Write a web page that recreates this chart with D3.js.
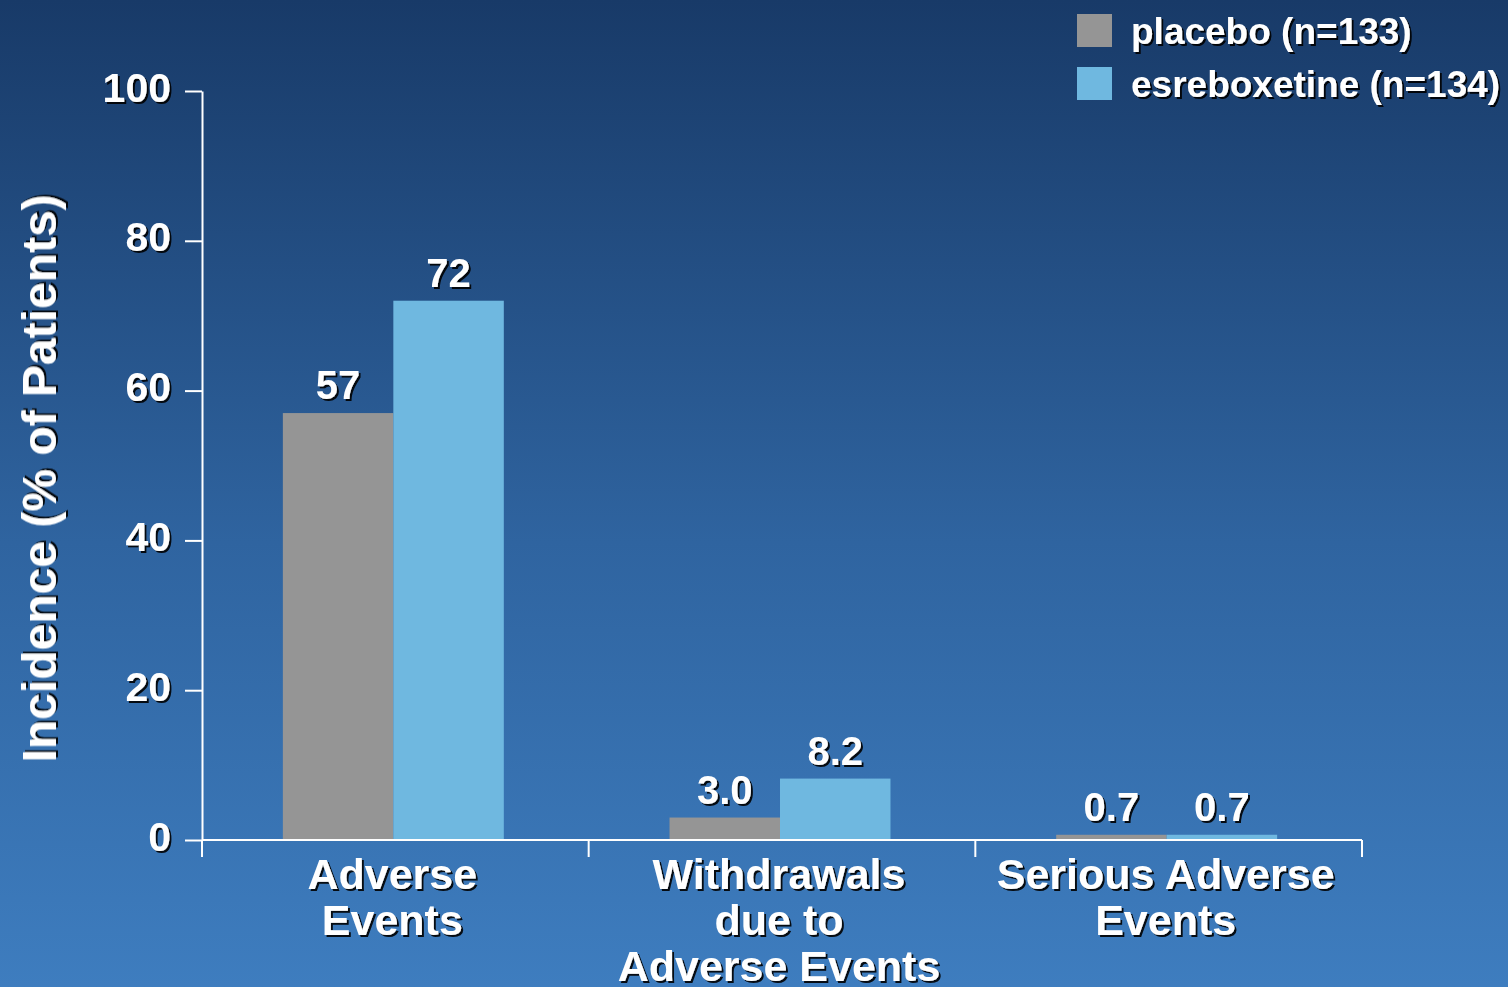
<!DOCTYPE html>
<html>
<head>
<meta charset="utf-8">
<script src="https://cdn.jsdelivr.net/npm/d3@7"></script>
<style>
  html, body { margin: 0; padding: 0; }
  body { width: 1508px; height: 987px; overflow: hidden; }
  text { font-family: "Liberation Sans", Arial, sans-serif; font-weight: bold; fill: #fff; }
</style>
</head>
<body>
<div id="chart"></div>
<script>
// chart data
const categories = [
  ["Adverse", "Events"],
  ["Withdrawals", "due to", "Adverse Events"],
  ["Serious Adverse", "Events"]
];
const seriesNames = ["placebo (n=133)", "esreboxetine (n=134)"];
const placebo = [57, 3.0, 0.7];
const esreboxetine = [72, 8.2, 0.7];
const valueLabels = [["57", "3.0", "0.7"], ["72", "8.2", "0.7"]];
const yTicks = [0, 20, 40, 60, 80, 100];

const cfg = {
  width: 1508,
  height: 987,
  margin: { left: 202, right: 146, top: 91, bottom: 147 }
};
const colors = ["#959595", "#6fb8e0"];

const svg = d3.select("#chart")
  .append("svg")
  .attr("width", cfg.width)
  .attr("height", cfg.height);

// background gradient + text shadow
const defs = svg.append("defs");
const grad = defs.append("linearGradient")
  .attr("id", "bg").attr("x1", 0).attr("y1", 0).attr("x2", 0).attr("y2", 1);
grad.append("stop").attr("offset", "0%").attr("stop-color", "#183a68");
grad.append("stop").attr("offset", "55%").attr("stop-color", "#2f64a0");
grad.append("stop").attr("offset", "100%").attr("stop-color", "#3e7dbf");

const shadow = defs.append("filter").attr("id", "shadow")
  .attr("x", "-10%").attr("y", "-10%").attr("width", "130%").attr("height", "130%");
shadow.append("feDropShadow")
  .attr("dx", 2).attr("dy", 2).attr("stdDeviation", 0.7)
  .attr("flood-color", "#000").attr("flood-opacity", 0.9);

svg.append("rect")
  .attr("width", cfg.width).attr("height", cfg.height)
  .attr("fill", "url(#bg)");

// scales
const x0 = d3.scaleBand()
  .domain(d3.range(categories.length))
  .range([cfg.margin.left, cfg.width - cfg.margin.right])
  .padding(0);

const x1 = d3.scaleBand()
  .domain([0, 1])
  .range([0, x0.bandwidth()])
  .paddingInner(0)
  .paddingOuter(0.75);

const y = d3.scaleLinear()
  .domain([0, 100])
  .range([cfg.height - cfg.margin.bottom, cfg.margin.top]);

const series = [placebo, esreboxetine];

// bars
const groups = svg.append("g").attr("class", "bars")
  .selectAll("g")
  .data(categories)
  .join("g")
  .attr("transform", (d, i) => `translate(${x0(i)},0)`);

groups.selectAll("rect")
  .data((d, i) => series.map((s, j) => ({ s: j, v: s[i] })))
  .join("rect")
  .attr("x", d => x1(d.s) - 2)
  .attr("width", x1.bandwidth())
  .attr("y", d => y(d.v))
  .attr("height", d => y(0) - y(d.v))
  .attr("fill", d => colors[d.s]);

// value labels
groups.selectAll("text")
  .data((d, i) => series.map((s, j) => ({ s: j, v: s[i], label: valueLabels[j][i] })))
  .join("text")
  .attr("x", d => x1(d.s) - 2 + x1.bandwidth() / 2)
  .attr("y", d => y(d.v) - 14)
  .attr("text-anchor", "middle")
  .attr("font-size", 40)
  .attr("filter", "url(#shadow)")
  .text(d => d.label);

// y axis
const yAxis = d3.axisLeft(y).tickValues(yTicks).tickSize(17).tickSizeOuter(0).tickPadding(14);
const gy = svg.append("g")
  .attr("transform", `translate(${cfg.margin.left},0)`)
  .call(yAxis);
gy.selectAll("path, line").attr("stroke", "#fff").attr("stroke-width", 2);
gy.selectAll("text")
  .attr("font-size", 41)
  .attr("dy", null)
  .attr("y", 10)
  .attr("fill", "#fff")
  .attr("filter", "url(#shadow)")
  .style("font-family", "'Liberation Sans', Arial, sans-serif")
  .style("font-weight", "bold");

// x axis line + category boundary ticks
const gx = svg.append("g").attr("class", "x-axis");
gx.append("line")
  .attr("x1", cfg.margin.left).attr("x2", x0.range()[1])
  .attr("y1", y(0)).attr("y2", y(0))
  .attr("stroke", "#fff").attr("stroke-width", 2);
const bounds = d3.range(categories.length + 1).map(i => i < categories.length ? x0(i) : x0(i - 1) + x0.bandwidth());
gx.selectAll(".bound")
  .data(bounds)
  .join("line")
  .attr("class", "bound")
  .attr("x1", d => d).attr("x2", d => d)
  .attr("y1", y(0)).attr("y2", y(0) + 17)
  .attr("stroke", "#fff").attr("stroke-width", 2);

// category labels
const cl = gx.selectAll(".cat")
  .data(categories)
  .join("text")
  .attr("class", "cat")
  .attr("text-anchor", "middle")
  .attr("font-size", 43)
  .attr("filter", "url(#shadow)")
  .attr("transform", (d, i) => `translate(${x0(i) + x0.bandwidth() / 2 - 3},${y(0) + 49})`);
cl.selectAll("tspan")
  .data(d => d)
  .join("tspan")
  .attr("x", 0)
  .attr("y", (d, i) => i * 46)
  .text(d => d);

// y axis title
svg.append("text")
  .attr("transform", `translate(56,${(y(0) + y(100)) / 2 + 13}) rotate(-90)`)
  .attr("text-anchor", "middle")
  .attr("font-size", 48)
  .attr("filter", "url(#shadow)")
  .text("Incidence (% of Patients)");

// legend
const legend = svg.append("g").attr("class", "legend")
  .selectAll("g")
  .data(seriesNames)
  .join("g")
  .attr("transform", (d, i) => `translate(1077,${14 + i * 53})`);
legend.append("rect")
  .attr("width", 35).attr("height", 33)
  .attr("fill", (d, i) => colors[i]);
legend.append("text")
  .attr("x", 54).attr("y", 30)
  .attr("font-size", 37)
  .attr("filter", "url(#shadow)")
  .text(d => d);
</script>
</body>
</html>
